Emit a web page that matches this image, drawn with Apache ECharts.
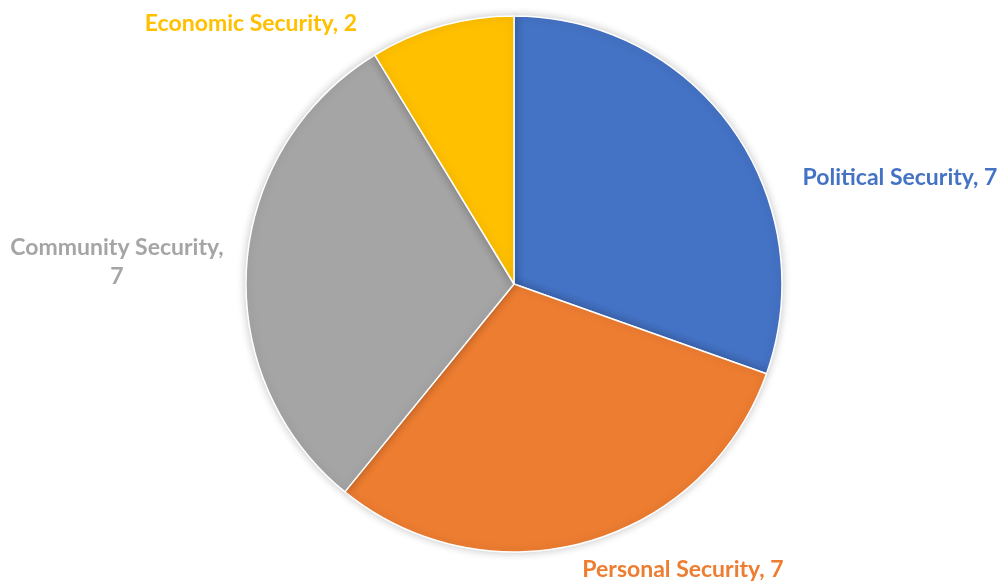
<!DOCTYPE html>
<html>
<head>
<meta charset="utf-8">
<script src="https://cdn.jsdelivr.net/npm/echarts@6/dist/echarts.min.js"></script>
<style>
  html, body { margin: 0; padding: 0; background: #fff; }
  #chart { width: 1002px; height: 585px; }
</style>
</head>
<body>
<div id="chart"></div>
<script>
// Security categories and their counts, clockwise from 12 o'clock
const categories = ['Political Security', 'Personal Security', 'Community Security', 'Economic Security'];
const counts = [7, 7, 7, 2];
const colors = ['#4472C4', '#ED7D31', '#A5A5A5', '#FFC000'];
// label text (Community wraps onto two lines)
const labelTexts = ['Political Security, 7', 'Personal Security, 7', 'Community Security,\n7', 'Economic Security, 2'];
// label anchor points (centre of each text block)
const labelSpots = [[900, 178], [683, 570], [117, 262], [251, 24]];

const chart = echarts.init(document.getElementById('chart'), null, { renderer: 'canvas' });
chart.setOption({
  animation: false,
  series: [{
    type: 'pie',
    center: [514, 284],
    radius: [0, 268],
    startAngle: 90,
    clockwise: true,
    data: categories.map((name, i) => ({
      name,
      value: counts[i],
      itemStyle: { color: colors[i] },
      label: { color: colors[i], formatter: labelTexts[i] }
    })),
    itemStyle: {
      borderColor: '#ffffff',
      borderWidth: 1.5,
      shadowBlur: 10,
      shadowColor: 'rgba(0,0,0,0.22)'
    },
    label: {
      show: true,
      position: 'outside',
      fontFamily: 'Lato',
      fontWeight: 'bold',
      fontSize: 23,
      lineHeight: 29,
      align: 'center',
      overflow: 'none',
      width: 400
    },
    labelLine: { show: false },
    labelLayout: (p) => ({
      x: labelSpots[p.dataIndex][0],
      y: labelSpots[p.dataIndex][1],
      align: 'center',
      verticalAlign: 'middle'
    })
  }]
});
</script>
</body>
</html>
